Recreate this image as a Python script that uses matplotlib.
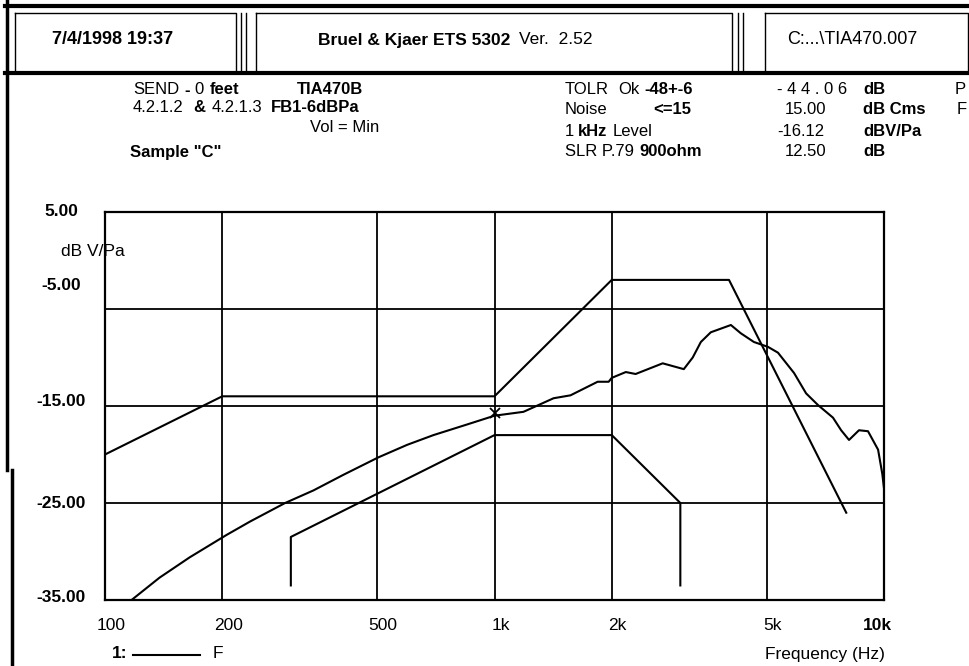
import matplotlib
matplotlib.use("Agg")
import matplotlib.pyplot as plt
from matplotlib.ticker import NullLocator

plt.rcParams['font.family'] = ['Liberation Sans', 'DejaVu Sans']

# measured response, Hz / dBV/Pa
freq = [117, 138, 165, 205, 236, 290, 343, 409, 503, 597, 697, 851, 1000,
        1187, 1418, 1567, 1840, 1964, 2000, 2173, 2303, 2703, 3062, 3228,
        3387, 3592, 4045, 4288, 4634, 5034, 5342, 5876, 6310, 6768, 7396,
        7762, 8132, 8625, 9097, 9656, 9900, 10000]
level = [-35.0, -32.7, -30.6, -28.3, -26.9, -25.0, -23.7, -22.1, -20.3, -19.0,
         -18.0, -16.9, -16.0, -15.6, -14.2, -13.9, -12.5, -12.5, -12.1, -11.5,
         -11.7, -10.6, -11.2, -10.0, -8.4, -7.4, -6.65, -7.5, -8.4, -8.9,
         -9.5, -11.6, -13.7, -14.9, -16.2, -17.5, -18.5, -17.5, -17.6, -19.5,
         -22.0, -23.5]

# tolerance masks
upper_freq = [100, 200, 1000, 2000, 4000, 8000]
upper_level = [-20, -14, -14, -2, -2, -26]
lower_freq = [300, 300, 1000, 2000, 3000, 3000]
lower_level = [-33.5, -28.5, -18, -18, -25, -33.5]

ref_freq = [1000]
ref_level = [-15.7]

grid_freqs = [200, 500, 1000, 2000, 5000]
grid_levels = [-5, -15, -25]
xtick_freqs = [100, 200, 500, 1000, 2000, 5000, 10000]
xtick_labels = ['100', '200', '500', '1k', '2k', '5k', '10k']
ytick_levels = [5, -5, -15, -25, -35]
ytick_labels = ['5.00', '-5.00', '-15.00', '-25.00', '-35.00']

fig = plt.figure(figsize=(9.7, 6.66), dpi=100)

# page overlay in pixel coords for the printout header
over = fig.add_axes([0, 0, 1, 1])
over.set_xlim(0, 970)
over.set_ylim(666, 0)
over.axis('off')

def put(x, y, s, bold=False, size=12, ha='left'):
    return over.text(x, y, s, fontsize=size,
                     fontweight='bold' if bold else 'normal',
                     ha=ha, va='center', color='black')

def chain(x, y, parts, size=12):
    # mixed bold / normal words on one line, each placed after the last
    s, b, _ = parts[0]
    t = put(x, y, s, b, size)
    for s, b, gap in parts[1:]:
        t = over.annotate(s, xy=(1, 0.5), xycoords=t, xytext=(gap, 0),
                          textcoords='offset pixels', ha='left', va='center',
                          fontsize=size, fontweight='bold' if b else 'normal')
    return t

# header frame
over.plot([5, 970], [6, 6], color='black', lw=3)
over.plot([5, 970], [73, 73], color='black', lw=3)
over.plot([7, 7], [0, 470], color='black', lw=2.5)
over.plot([12, 12], [470, 666], color='black', lw=2.5)
for x0, x1 in [(15, 236), (256, 732), (765, 968)]:
    over.plot([x0, x1, x1, x0, x0], [13, 13, 72, 72, 13], color='black', lw=1)
for xs in [241, 246, 738, 743]:
    over.plot([xs, xs], [13, 72], color='black', lw=1)

put(113, 39, '7/4/1998 19:37', bold=True, size=13, ha='center')
chain(318, 40, [('Bruel & Kjaer ETS 5302', True, 0), ('Ver.  2.52', False, 9)], size=12.5)
put(787, 40, 'C:...\\TIA470.007', size=13)

# test info block
chain(133, 90, [('SEND', False, 0), ('-', True, 5), ('0', False, 5), ('feet', True, 6)])
put(297, 90, 'TIA470B', bold=True)
chain(133, 108, [('4.2.1.2', False, 0), ('&', True, 10), ('4.2.1.3', False, 6),
                 ('FB1-6dBPa', True, 8)])
put(310, 128, 'Vol = Min')
put(130, 152, 'Sample "C"', bold=True)

chain(565, 90, [('TOLR', False, 0), ('Ok', False, 9), ('-48+-6', True, 5)])
chain(565, 110, [('Noise', False, 0), ('<=15', True, 46)])
chain(565, 131, [('1', False, 0), ('kHz', True, 4), ('Level', False, 5)])
chain(565, 152, [('SLR P.79', False, 0), ('900ohm', True, 5)])

put(777, 90, '- 4 4 . 0 6')
put(785, 110, '15.00')
put(777, 131, '-16.12')
put(785, 152, '12.50')
put(863, 90, 'dB', bold=True)
put(863, 110, 'dB Cms', bold=True)
put(863, 131, 'dBV/Pa', bold=True)
put(863, 152, 'dB', bold=True)
put(955, 90, 'P')
put(957, 110, 'F')

# chart
ax = fig.add_axes([105 / 970, 66 / 666, 779 / 970, 388 / 666])
ax.set_facecolor('none')
ax.set_xscale('log')
ax.set_xlim(100, 10000)
ax.set_ylim(-35, 5)
ax.set_xticks(grid_freqs)
ax.xaxis.set_minor_locator(NullLocator())
ax.set_yticks(grid_levels)
ax.tick_params(length=0, labelbottom=False, labelleft=False)
ax.grid(True, color='black', lw=1.3)
for sp in ax.spines.values():
    sp.set_linewidth(1.6)
    sp.set_color('black')

ax.plot(upper_freq, upper_level, color='black', lw=1.5)
ax.plot(lower_freq, lower_level, color='black', lw=1.5)
ax.plot(freq, level, color='black', lw=1.5)
ax.plot(ref_freq, ref_level, marker='x', color='black', ms=7, mew=1.3, ls='none')

# axis labels, nudged like the printout
for f, lbl in zip(xtick_freqs, xtick_labels):
    ax.annotate(lbl, xy=(f, 625), xycoords=(ax.transData, over.transData),
                xytext=(-7 if f == 10000 else 6, 0), textcoords='offset pixels',
                ha='center', va='center', fontsize=12.5,
                fontweight='bold' if f == 10000 else 'normal')
ynudge = [1, 24, 5, 0, 2]
for v, lbl, dy in zip(ytick_levels, ytick_labels, ynudge):
    ax.annotate(lbl, xy=(61, v), xycoords=(over.transData, ax.transData),
                xytext=(0, dy), textcoords='offset pixels',
                ha='center', va='center', fontsize=12.5, fontweight='bold')
put(61, 252, 'dB V/Pa', size=12.5)

# legend line and x title
put(112, 653, '1:', bold=True, size=12.5)
over.plot([133, 200], [655, 655], color='black', lw=1.5)
put(213, 653, 'F', size=12.5)
put(765, 655, 'Frequency (Hz)', size=12.5)

fig.savefig('out.png', dpi=100)
